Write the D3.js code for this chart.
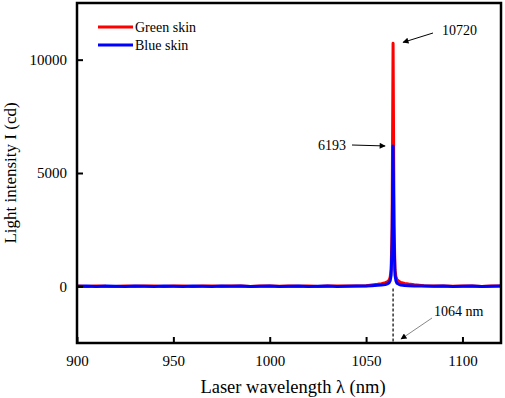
<!DOCTYPE html>
<html>
<head>
<meta charset="utf-8">
<script src="https://cdn.jsdelivr.net/npm/d3@7"></script>
<style>
  body { margin: 0; background: #fff; }
  svg text { font-family: "Liberation Serif", "Times New Roman", Tinos, "DejaVu Serif", serif !important; }
</style>
</head>
<body>
<div id="chart"></div>
<script>
const width = 505;
const height = 398;
const margin = { top: 3, right: 4, bottom: 55, left: 77 };

// wavelength samples (nm)
const wavelength = [900, 905, 910, 915, 920, 925, 930, 935, 940, 945, 950, 955, 960, 965, 970, 975,
  980, 985, 990, 995, 1000, 1005, 1010, 1015, 1020, 1025, 1030, 1035, 1040, 1045, 1050,
  1053, 1056, 1058, 1060, 1061, 1062, 1062.5, 1063, 1063.5, 1064, 1064.5, 1065, 1065.5, 1066,
  1067, 1068, 1070, 1072, 1075, 1080, 1085, 1090, 1095, 1100, 1105, 1110, 1115, 1120];

// light intensity, green skin (cd)
const greenSkin = [10, -10, 20, 0, -10, 20, 0, 20, 10, -10, 10, 20, -10, 10, 20, 0,
  10, 20, -10, 10, 20, 0, 10, 0, 10, -10, 20, 10, 20, 10, 30,
  60, 90, 120, 160, 200, 280, 400, 750, 2600, 10720, 2700, 720, 420, 300,
  220, 170, 130, 100, 70, 30, 10, 20, 0, 20, 10, -10, 10, 10];

// light intensity, blue skin (cd)
const blueSkin = [0, 10, -10, 10, 0, -10, 10, 0, -10, 10, 0, -10, 10, 0, -10, 10,
  0, 10, -10, 0, 10, -10, 0, 10, -10, 0, 10, -10, 0, 10, 10,
  30, 50, 60, 80, 110, 160, 250, 500, 1900, 6193, 2000, 500, 240, 140,
  90, 60, 40, 30, 20, 10, 0, 10, -10, 0, 10, -10, 0, 10];

const series = [
  { name: 'Green skin', color: '#ff0000', values: greenSkin },
  { name: 'Blue skin', color: '#0000ff', values: blueSkin }
];

const xTicks = [900, 950, 1000, 1050, 1100];
const yTicks = [0, 5000, 10000];

const svg = d3.select('#chart')
  .append('svg')
  .attr('width', width)
  .attr('height', height)
  .attr('font-family', '"Liberation Serif", serif');

const x = d3.scaleLinear()
  .domain([900, 1120])
  .range([margin.left, width - margin.right]);

const y = d3.scaleLinear()
  .domain([-2500, 12500])
  .range([height - margin.bottom, margin.top]);

const x0 = margin.left, x1 = width - margin.right;
const y0 = height - margin.bottom, y1 = margin.top;

// arrow head
svg.append('defs').append('marker')
  .attr('id', 'arrow')
  .attr('viewBox', '0 0 10 10')
  .attr('refX', 9)
  .attr('refY', 5)
  .attr('markerWidth', 9)
  .attr('markerHeight', 6)
  .attr('markerUnits', 'userSpaceOnUse')
  .attr('orient', 'auto')
  .append('path')
  .attr('d', 'M0,0 L10,5 L0,10 Z')
  .attr('fill', '#000');

// dashed line at 1064 nm
svg.append('line')
  .attr('x1', x(1064))
  .attr('x2', x(1064))
  .attr('y1', y(-100))
  .attr('y2', y0)
  .attr('stroke', '#000')
  .attr('stroke-width', 1.2)
  .attr('stroke-dasharray', '3,2');

// spectra
const line = d3.line()
  .x((d, i) => x(wavelength[i]))
  .y(d => y(d));

svg.selectAll('.spectrum')
  .data(series)
  .join('path')
  .attr('class', 'spectrum')
  .attr('d', d => line(d.values))
  .attr('fill', 'none')
  .attr('stroke', d => d.color)
  .attr('stroke-width', 3)
  .attr('stroke-linejoin', 'round');

// axes
const xAxisG = svg.append('g')
  .attr('transform', `translate(0, ${y0})`)
  .call(d3.axisBottom(x).tickValues(xTicks).tickSizeInner(-6).tickSizeOuter(0).tickPadding(12).tickFormat(d3.format('d')));

const yAxisG = svg.append('g')
  .attr('transform', `translate(${x0}, 0)`)
  .call(d3.axisLeft(y).tickValues(yTicks).tickSizeInner(-6).tickSizeOuter(0).tickPadding(10).tickFormat(d3.format('d')));

[xAxisG, yAxisG].forEach(g => {
  g.attr('font-family', null);
  g.select('.domain').remove();
  g.selectAll('.tick line').attr('stroke', '#000').attr('stroke-width', 2);
  g.selectAll('.tick text')
    .attr('font-size', 15)
    .attr('fill', '#000');
});

// frame
svg.append('rect')
  .attr('x', x0)
  .attr('y', y1)
  .attr('width', x1 - x0)
  .attr('height', y0 - y1)
  .attr('fill', 'none')
  .attr('stroke', '#000')
  .attr('stroke-width', 2.5);

// axis titles
svg.append('text')
  .text('Laser wavelength λ (nm)')
  .attr('x', 293)
  .attr('y', 393)
  .attr('text-anchor', 'middle')
  .attr('font-size', 18.5);

svg.append('text')
  .text('Light intensity I (cd)')
  .attr('transform', `translate(16, ${(y0 + y1) / 2}) rotate(-90)`)
  .attr('text-anchor', 'middle')
  .attr('font-size', 17);

// legend
const legend = svg.append('g')
  .selectAll('g')
  .data(series)
  .join('g')
  .attr('transform', (d, i) => `translate(98, ${27 + i * 18})`);

legend.append('line')
  .attr('x1', 0)
  .attr('x2', 35)
  .attr('stroke', d => d.color)
  .attr('stroke-width', 3);

legend.append('text')
  .text(d => d.name)
  .attr('x', 37)
  .attr('y', 5)
  .attr('font-size', 14);

// annotations
svg.append('text')
  .text('10720')
  .attr('x', 442)
  .attr('y', 35)
  .attr('font-size', 14);
svg.append('line')
  .attr('x1', 433).attr('y1', 33)
  .attr('x2', x(1064) + 10).attr('y2', y(10720) - 1)
  .attr('stroke', '#000').attr('stroke-width', 1)
  .attr('marker-end', 'url(#arrow)');

svg.append('text')
  .text('6193')
  .attr('x', 318)
  .attr('y', 150)
  .attr('font-size', 14);
svg.append('line')
  .attr('x1', 352).attr('y1', 145)
  .attr('x2', x(1064) - 8).attr('y2', y(6193))
  .attr('stroke', '#000').attr('stroke-width', 1)
  .attr('marker-end', 'url(#arrow)');

svg.append('text')
  .text('1064 nm')
  .attr('x', 434)
  .attr('y', 316)
  .attr('font-size', 14);
svg.append('line')
  .attr('x1', 432).attr('y1', 318)
  .attr('x2', x(1064) + 8).attr('y2', 339)
  .attr('stroke', '#888').attr('stroke-width', 1)
  .attr('marker-end', 'url(#arrow)');
</script>
</body>
</html>
